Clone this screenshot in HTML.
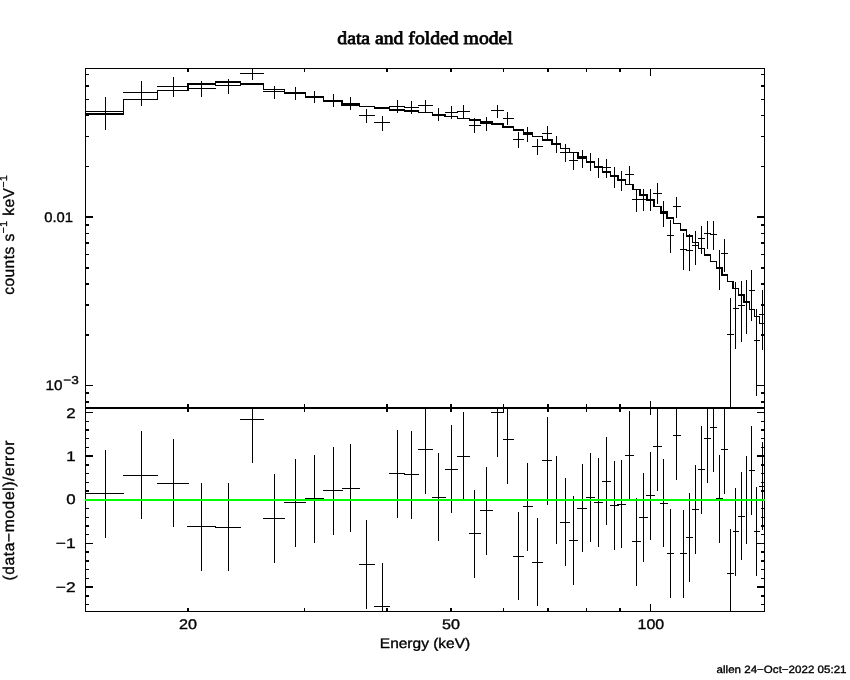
<!DOCTYPE html>
<html><head><meta charset="utf-8"><title>data and folded model</title>
<style>
html,body{margin:0;padding:0;background:#fff;}
body{width:850px;height:680px;overflow:hidden;font-family:"Liberation Sans",sans-serif;}
svg{display:block}
</style></head><body>
<svg width="850" height="680" viewBox="0 0 850 680">
<rect width="850" height="680" fill="#fff"/>
<g shape-rendering="crispEdges">
<path d="M85.4 111.5H124.2M105.5 97.2V129.8M123 92.5H158M141.4 81.2V105.8M156.8 86.5H188.6M173.4 77.2V96.8M187.4 88.5H216.1M201.4 81.2V96.8M214.9 85.5H241.1M228.4 79.2V93.8M239.9 73.5H264.2M252.4 68.2V79.8M263 91.5H285M274.4 86.2V98.8M283.8 93.5H306.2M295.5 87.2V99.8M305 97H324.2M314.5 91.2V102.8M323 100.5H342.8M333.4 94.2V106.8M341.6 103.5H360.3M350.4 97.2V109.8M359.1 115.5H375.2M366.5 109.2V122.8M374 122.5H390.2M382.4 116.2V130.8M389 106.5H405.1M397.5 100.2V112.8M403.9 107.5H419.2M411.4 101.2V113.8M418 105.5H432.9M425.4 100.2V112.8M431.7 114.8H445.8M438.4 108.2V120.8M444.6 112.5H458M451.4 106.2V118.8M456.8 111.5H470.3M463.4 105.2V118.8M469.1 125.5H481.3M474.5 118.2V132.8M480.1 123.5H492.6M486.5 117.2V130.8M491.4 110.5H503.7M497.4 105.2V117.8M502.5 118.5H513.9M507.5 112.2V124.8M512.7 139.5H524.3M518.4 132.2V147.8M523.1 134.5H533.1M527.4 127.2V141.8M531.9 146.5H543.2M537.4 139.2V154.8M542 133.5H552.4M547.4 126.2V140.8M551.2 144H561.1M556.5 136.2V152.8M559.9 152.5H570M565.4 144.2V161.8M568.8 160.5H578.4M573.5 153.2V169.8M577.2 158.5H587.2M582.5 150.2V167.8M586 162H595.1M590.5 153.2V170.8M593.9 167.2H603.2M598.5 158.2V177.8M602 167.5H611.3M606.5 159.2V177.8M610.1 176.5H618.6M614.5 167.2V187.8M617.4 180.5H626.2M621.5 171.2V190.8M625 174.5H633.5M629.5 166.2V184.8M632.3 199.5H640.6M636.5 189.2V211.8M639.4 199.5H647.6M643.5 189.2V210.8M646.4 199.5H654.6M650.5 189.2V210.8M653.4 193.5H661.6M657.5 183.2V203.8M660.4 213.5H667.8M663.5 201.2V226.8M666.6 235.5H674.3M670.5 220.2V252.8M673.1 206.5H680.9M676.6 197.2V217.8M679.7 249.5H687.3M683.5 233.2V269.8M686.1 250.5H693.3M689.5 234.2V270.8M692.1 245.5H699.1M695.5 231.2V264.8M697.9 238.5H705.2M701.4 226.2V253.8M704 233.5H711.2M707.4 221.2V248.8M710 234.5H717.1M713.5 221.2V249.8M715.9 267.8H722.6M719.5 250.2V289.8M721.4 253.5H728.2M724.7 239.2V271.8M727 334.5H733.8M730.5 298.2V407.8M732.6 308.5H739.3M735.6 282.2V348.8M738.1 305.5H744.7M741.5 281.2V341.8M743.5 302.3H750M746.6 280.2V333.8M748.8 290.5H755.1M751.4 270.2V320.8M753.9 340.5H760.2M756.6 309.2V395.8M759 314.5H764.7M762.3 290.2V349.8" fill="none" stroke="#000" stroke-width="1"/>
<path d="M85.4 114V114H123.6V99.5H157.4V90.5H188V84H215.5V82H240.5V84H263.6V89.5H284.4V93H305.6V97H323.6V101H342.2V105H359.7V106.5H374.6V108H389.6V110H404.5V111H418.6V112.5H432.3V115H445.2V116.5H457.4V118.5H469.7V120H480.7V122H492V124H503.1V127H513.3V130H523.7V133H532.5V136.5H542.6V140H551.8V144H560.5V148.5H569.4V152.5H577.8V157H586.6V162H594.5V167H602.6V172H610.7V176H618V180H625.6V184.5H632.9V189.5H640V195H647V200H654V206.5H661V212H667.2V218H673.7V223.5H680.3V230H686.7V236H692.7V242.5H698.5V248.5H704.6V255H710.6V261.5H716.5V268H722V275H727.6V281.5H733.2V288.5H738.7V295H744.1V302H749.4V309.5H754.5V316.5H759.6V323.5H764.7" fill="none" stroke="#000" stroke-width="1.5"/>
<path d="M85.4 493.4H124.2M105.5 450.2V537.8M123 475.2H158M141.4 431.2V518.8M156.8 483.2H188.6M173.4 439.2V526.8M187.4 526.3H216.1M201.4 483.2V570.8M214.9 527.3H241.1M228.4 483.2V570.8M239.9 419.4H264.2M252.4 408.2V462.8M263 518.4H285M274.4 474.2V562.8M283.8 502.4H306.2M295.5 459.2V546.8M305 498.3H324.2M314.5 455.2V542.8M323 490.4H342.8M333.4 447.2V534.8M341.6 488.3H360.3M350.4 444.2V531.8M359.1 564.4H375.2M366.5 520.2V608.8M374 606.3H390.2M382.4 563.2V610.8M389 473.5H405.1M397.5 430.2V517.8M403.9 474.5H419.2M411.4 431.2V518.8M418 449.6H432.9M425.4 408.2V493.8M431.7 497.3H445.8M438.4 453.2V540.8M444.6 469.3H458M451.4 425.2V512.8M456.8 456.2H470.3M463.4 412.2V498.8M469.1 533.4H481.3M474.5 490.2V577.8M480.1 510.3H492.6M486.5 467.2V554.8M491.4 412.6H503.7M497.4 408.2V456.8M502.5 439.6H513.9M507.5 408.2V483.8M512.7 556.2H524.3M518.4 512.2V599.8M523.1 506.4H533.1M527.4 463.2V550.8M531.9 562.2H543.2M537.4 518.2V605.8M542 460.5H552.4M547.4 417.2V504.8M551.2 499.8H561.1M556.5 456.2V543.8M559.9 522.4H570M565.4 478.2V565.8M568.8 540.5H578.4M573.5 496.2V584.8M577.2 508.4H587.2M582.5 464.2V551.8M586 497.3H595.1M590.5 453.2V541.8M593.9 502.3H603.2M598.5 458.2V546.8M602 481.5H611.3M606.5 437.2V524.8M610.1 505.4H618.6M614.5 461.2V549.8M617.4 504.4H626.2M621.5 460.2V547.8M625 455.5H633.5M629.5 411.2V498.8M632.3 541.4H640.6M636.5 498.2V585.8M639.4 517.3H647.6M643.5 473.2V561.8M646.4 495.6H654.6M650.5 452.2V539.8M653.4 446.6H661.6M657.5 408.2V490.8M660.4 503.2H667.8M663.5 459.2V546.8M666.6 553.3H674.3M670.5 509.2V597.8M673.1 435.3H680.9M676.6 408.2V479.8M679.7 553.3H687.3M683.5 510.2V597.8M686.1 537.3H693.3M689.5 493.2V581.8M692.1 509.4H699.1M695.5 465.2V553.8M697.9 469.4H705.2M701.4 426.2V513.8M704 438.4H711.2M707.4 408.2V482.8M710 427.5H717.1M713.5 408.2V471.8M715.9 498.5H722.6M719.5 455.2V542.8M721.4 449.4H728.2M724.7 408.2V493.8M727 573.2H733.8M730.5 529.2V610.8M732.6 531.4H739.3M735.6 488.2V575.8M738.1 516.4H744.7M741.5 472.2V559.8M743.5 500.3H750M746.6 456.2V543.8M748.8 470.2H755.1M751.4 426.2V514.8M753.9 531.4H760.2M756.6 487.2V575.8M759 486.4H764.7M762.3 442.2V529.8" fill="none" stroke="#000" stroke-width="1"/>
<rect x="85.4" y="68.3" width="679.3" height="543" fill="none" stroke="#000" stroke-width="1"/>
<line x1="85.4" y1="408" x2="764.7" y2="408" stroke="#000" stroke-width="2"/>
<path d="M187.86 68.3v3.7M187.86 404.3V411.7M187.86 611.3v-3.7M304.4 68.3v3.7M304.4 404.3V411.7M304.4 611.3v-3.7M387.09 68.3v3.7M387.09 404.3V411.7M387.09 611.3v-3.7M451.22 68.3v3.7M451.22 404.3V411.7M451.22 611.3v-3.7M503.62 68.3v3.7M503.62 404.3V411.7M503.62 611.3v-3.7M547.93 68.3v3.7M547.93 404.3V411.7M547.93 611.3v-3.7M586.31 68.3v3.7M586.31 404.3V411.7M586.31 611.3v-3.7M620.16 68.3v3.7M620.16 404.3V411.7M620.16 611.3v-3.7M650.44 68.3v7.4M650.44 400.6V415.4M650.44 611.3v-7.4M85.4 401.78h3.7M764.7 401.78h-3.7M85.4 393.17h3.7M764.7 393.17h-3.7M85.4 385.46h7.4M764.7 385.46h-7.4M85.4 334.77h3.7M764.7 334.77h-3.7M85.4 305.11h3.7M764.7 305.11h-3.7M85.4 284.07h3.7M764.7 284.07h-3.7M85.4 267.75h3.7M764.7 267.75h-3.7M85.4 254.42h3.7M764.7 254.42h-3.7M85.4 243.15h3.7M764.7 243.15h-3.7M85.4 233.38h3.7M764.7 233.38h-3.7M85.4 224.77h3.7M764.7 224.77h-3.7M85.4 217.06h7.4M764.7 217.06h-7.4M85.4 166.37h3.7M764.7 166.37h-3.7M85.4 136.71h3.7M764.7 136.71h-3.7M85.4 115.67h3.7M764.7 115.67h-3.7M85.4 99.35h3.7M764.7 99.35h-3.7M85.4 86.02h3.7M764.7 86.02h-3.7M85.4 74.55h3.7M764.7 74.55h-3.7M85.4 604.53h3.7M764.7 604.53h-3.7M85.4 595.81h3.7M764.7 595.81h-3.7M85.4 587.08h7.4M764.7 587.08h-7.4M85.4 578.35h3.7M764.7 578.35h-3.7M85.4 569.63h3.7M764.7 569.63h-3.7M85.4 560.9h3.7M764.7 560.9h-3.7M85.4 552.17h3.7M764.7 552.17h-3.7M85.4 543.45h7.4M764.7 543.45h-7.4M85.4 534.72h3.7M764.7 534.72h-3.7M85.4 525.99h3.7M764.7 525.99h-3.7M85.4 517.26h3.7M764.7 517.26h-3.7M85.4 508.54h3.7M764.7 508.54h-3.7M85.4 499.81h7.4M764.7 499.81h-7.4M85.4 491.08h3.7M764.7 491.08h-3.7M85.4 482.36h3.7M764.7 482.36h-3.7M85.4 473.63h3.7M764.7 473.63h-3.7M85.4 464.9h3.7M764.7 464.9h-3.7M85.4 456.18h7.4M764.7 456.18h-7.4M85.4 447.45h3.7M764.7 447.45h-3.7M85.4 438.72h3.7M764.7 438.72h-3.7M85.4 429.99h3.7M764.7 429.99h-3.7M85.4 421.27h3.7M764.7 421.27h-3.7M85.4 412.54h7.4M764.7 412.54h-7.4" fill="none" stroke="#000" stroke-width="1.5"/>
<line x1="84.9" y1="500" x2="765.2" y2="500" stroke="#00ff00" stroke-width="2"/>
</g>
<g fill="#000" stroke="#000" stroke-width="0.35" opacity="0.999" style="will-change:opacity" text-rendering="geometricPrecision">
<text x="337.3" y="43.5" font-size="18" textLength="175.5" lengthAdjust="spacingAndGlyphs" font-family="Liberation Serif, serif" stroke="#000" stroke-width="0.8">data and folded model</text>
<text x="179" y="629.4" font-size="14" textLength="18" lengthAdjust="spacingAndGlyphs" font-family="Liberation Sans, sans-serif" >20</text>
<text x="442" y="629.4" font-size="14" textLength="18" lengthAdjust="spacingAndGlyphs" font-family="Liberation Sans, sans-serif" >50</text>
<text x="637.6" y="629.4" font-size="14" textLength="26.6" lengthAdjust="spacingAndGlyphs" font-family="Liberation Sans, sans-serif" >100</text>
<text x="379.8" y="647.6" font-size="14" textLength="90.4" lengthAdjust="spacingAndGlyphs" font-family="Liberation Sans, sans-serif" >Energy (keV)</text>
<text x="44.2" y="221.8" font-size="14" textLength="28.8" lengthAdjust="spacingAndGlyphs" font-family="Liberation Sans, sans-serif" >0.01</text>
<text x="45.4" y="390.3" font-size="14" textLength="17" lengthAdjust="spacingAndGlyphs" font-family="Liberation Sans, sans-serif" >10</text>
<text x="63.3" y="383.8" font-size="11.5" textLength="15.5" lengthAdjust="spacingAndGlyphs" font-family="Liberation Sans, sans-serif" >−3</text>
<text x="66.2" y="417.7" font-size="14" textLength="9.4" lengthAdjust="spacingAndGlyphs" font-family="Liberation Sans, sans-serif" >2</text>
<text x="66.2" y="460.9" font-size="14" textLength="9.4" lengthAdjust="spacingAndGlyphs" font-family="Liberation Sans, sans-serif" >1</text>
<text x="66.2" y="504.3" font-size="14" textLength="9.4" lengthAdjust="spacingAndGlyphs" font-family="Liberation Sans, sans-serif" >0</text>
<text x="55.8" y="548" font-size="14" textLength="19.8" lengthAdjust="spacingAndGlyphs" font-family="Liberation Sans, sans-serif" >−1</text>
<text x="55.8" y="591.6" font-size="14" textLength="19.8" lengthAdjust="spacingAndGlyphs" font-family="Liberation Sans, sans-serif" >−2</text>
<text transform="translate(14.1,294.8) rotate(-90)" font-size="15.6" textLength="119.6" lengthAdjust="spacing" font-family="Liberation Sans, sans-serif">counts s<tspan font-size="10.5" dy="-7">−1</tspan><tspan dy="7"> keV</tspan><tspan font-size="10.5" dy="-7">−1</tspan></text>
<text transform="translate(14.1,580.6) rotate(-90)" font-size="15.6" textLength="140" lengthAdjust="spacing" font-family="Liberation Sans, sans-serif">(data−model)/error</text>
<text x="716.6" y="673" font-size="10.6" textLength="129.9" lengthAdjust="spacingAndGlyphs" font-family="Liberation Sans, sans-serif" >allen 24−Oct−2022 05:21</text>
</g>
</svg>
</body></html>
